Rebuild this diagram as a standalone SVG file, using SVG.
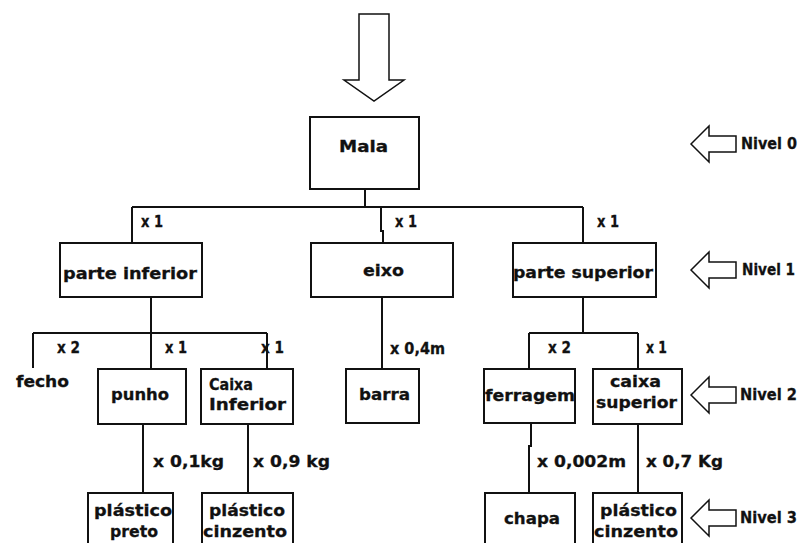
<svg xmlns="http://www.w3.org/2000/svg" xmlns:xlink="http://www.w3.org/1999/xlink" width="802" height="543" viewBox="0 0 802 543">
  <style>
    .box { fill: #fff; stroke: #111; stroke-width: 2; }
    .ln { fill: none; stroke: #111; stroke-width: 2; }
    .arw { fill: #fff; stroke: #111; stroke-width: 1.5; stroke-linejoin: miter; }
    text { font-family: "DejaVu Sans", "Liberation Sans", sans-serif; font-weight: bold; font-size: 16px; fill: #111; stroke: #111; stroke-width: 0.3; }
    .q { font-size: 15px; }
    .lv { font-size: 15px; }
  </style>
  <defs>
    <!-- left-pointing level marker, tip at origin -->
    <polygon id="lvArrow" class="arw" points="0,0 18,-18 18,-8 45,-8 45,8 18,8 18,18"/>
  </defs>

  <rect width="802" height="543" fill="#fff"/>

  <!-- input arrow -->
  <polygon class="arw" points="359,14 389,14 389,80 404,80 374,101 344,80 359,80"/>

  <!-- connectors -->
  <g id="connectors">
    <path class="ln" d="M365 189 V207 M132 207 H583 M132 207 V243 M381 207 V231 H383 V243 M583 207 V243"/>
    <path class="ln" d="M151 297 V333 M33 333 H267 M33 333 V368 M151 333 V369 M267 333 V369"/>
    <path class="ln" d="M143 424 V493 M248 424 V493"/>
    <path class="ln" d="M382 297 V369"/>
    <path class="ln" d="M583 297 V333 M529 333 H638 M529 333 V369 M638 333 V369"/>
    <path class="ln" d="M531 423 V446 H529 V493 M638 424 V493"/>
  </g>

  <!-- quantity labels -->
  <g id="labels">
    <text class="q" x="141" y="227" textLength="22" lengthAdjust="spacingAndGlyphs">x 1</text>
    <text class="q" x="395" y="227" textLength="22" lengthAdjust="spacingAndGlyphs">x 1</text>
    <text class="q" x="597" y="227" textLength="22" lengthAdjust="spacingAndGlyphs">x 1</text>
    <text class="q" x="57" y="353" textLength="23" lengthAdjust="spacingAndGlyphs">x 2</text>
    <text class="q" x="165" y="353" textLength="22" lengthAdjust="spacingAndGlyphs">x 1</text>
    <text class="q" x="261" y="353" textLength="23" lengthAdjust="spacingAndGlyphs">x 1</text>
    <text class="q" x="390" y="354" textLength="55" lengthAdjust="spacingAndGlyphs">x 0,4m</text>
    <text class="q" x="548" y="353" textLength="23" lengthAdjust="spacingAndGlyphs">x 2</text>
    <text class="q" x="646" y="353" textLength="21" lengthAdjust="spacingAndGlyphs">x 1</text>
    <text class="q" x="153" y="467" textLength="71" lengthAdjust="spacingAndGlyphs">x 0,1kg</text>
    <text class="q" x="253" y="467" textLength="77" lengthAdjust="spacingAndGlyphs">x 0,9 kg</text>
    <text class="q" x="537" y="467" textLength="89" lengthAdjust="spacingAndGlyphs">x 0,002m</text>
    <text class="q" x="646" y="467" textLength="77" lengthAdjust="spacingAndGlyphs">x 0,7 Kg</text>
  </g>

  <!-- nodes -->
  <g id="mala">
    <rect class="box" x="310" y="117" width="109" height="72"/>
    <text x="339" y="152" textLength="49" lengthAdjust="spacingAndGlyphs">Mala</text>
  </g>
  <g id="parte-inferior">
    <rect class="box" x="60" y="243" width="142" height="54"/>
    <text x="63" y="279" textLength="134" lengthAdjust="spacingAndGlyphs">parte inferior</text>
  </g>
  <g id="eixo">
    <rect class="box" x="311" y="243" width="142" height="54"/>
    <text x="363" y="276" textLength="41" lengthAdjust="spacingAndGlyphs">eixo</text>
  </g>
  <g id="parte-superior">
    <rect class="box" x="513" y="243" width="143" height="54"/>
    <text x="513" y="278" textLength="140" lengthAdjust="spacingAndGlyphs">parte superior</text>
  </g>
  <g id="fecho">
    <text x="16" y="387" textLength="53" lengthAdjust="spacingAndGlyphs">fecho</text>
  </g>
  <g id="punho">
    <rect class="box" x="98" y="369" width="88" height="55"/>
    <text x="111" y="400" textLength="58" lengthAdjust="spacingAndGlyphs">punho</text>
  </g>
  <g id="caixa-inferior">
    <rect class="box" x="201" y="369" width="92" height="55"/>
    <text x="209" y="390" textLength="44" lengthAdjust="spacingAndGlyphs">Caixa</text>
    <text x="209" y="410" textLength="77" lengthAdjust="spacingAndGlyphs">Inferior</text>
  </g>
  <g id="barra">
    <rect class="box" x="346" y="369" width="73" height="54"/>
    <text x="359" y="400" textLength="51" lengthAdjust="spacingAndGlyphs">barra</text>
  </g>
  <g id="ferragem">
    <rect class="box" x="484" y="369" width="91" height="54"/>
    <text x="485" y="401" textLength="90" lengthAdjust="spacingAndGlyphs">ferragem</text>
  </g>
  <g id="caixa-superior">
    <rect class="box" x="593" y="369" width="89" height="55"/>
    <text x="610" y="387" textLength="51" lengthAdjust="spacingAndGlyphs">caixa</text>
    <text x="596" y="408" textLength="81" lengthAdjust="spacingAndGlyphs">superior</text>
  </g>
  <g id="plastico-preto">
    <rect class="box" x="88" y="493" width="85" height="60"/>
    <text x="94" y="516" textLength="78" lengthAdjust="spacingAndGlyphs">plástico</text>
    <text x="110" y="537" textLength="48" lengthAdjust="spacingAndGlyphs">preto</text>
  </g>
  <g id="plastico-cinzento-1">
    <rect class="box" x="202" y="493" width="91" height="60"/>
    <text x="209" y="516" textLength="76" lengthAdjust="spacingAndGlyphs">plástico</text>
    <text x="203" y="537" textLength="84" lengthAdjust="spacingAndGlyphs">cinzento</text>
  </g>
  <g id="chapa">
    <rect class="box" x="485" y="493" width="90" height="60"/>
    <text x="504" y="524" textLength="56" lengthAdjust="spacingAndGlyphs">chapa</text>
  </g>
  <g id="plastico-cinzento-2">
    <rect class="box" x="593" y="493" width="89" height="60"/>
    <text x="600" y="516" textLength="77" lengthAdjust="spacingAndGlyphs">plástico</text>
    <text x="594" y="537" textLength="84" lengthAdjust="spacingAndGlyphs">cinzento</text>
  </g>

  <!-- level markers -->
  <g id="nivel-0">
    <use xlink:href="#lvArrow" href="#lvArrow" x="691" y="144"/>
    <text class="lv" x="741" y="149" textLength="56" lengthAdjust="spacingAndGlyphs">Nivel 0</text>
  </g>
  <g id="nivel-1">
    <use xlink:href="#lvArrow" href="#lvArrow" x="691" y="270"/>
    <text class="lv" x="742" y="275" textLength="53" lengthAdjust="spacingAndGlyphs">Nivel 1</text>
  </g>
  <g id="nivel-2">
    <use xlink:href="#lvArrow" href="#lvArrow" x="691" y="395"/>
    <text class="lv" x="740" y="400" textLength="57" lengthAdjust="spacingAndGlyphs">Nivel 2</text>
  </g>
  <g id="nivel-3">
    <use xlink:href="#lvArrow" href="#lvArrow" x="691" y="518"/>
    <text class="lv" x="740" y="523" textLength="57" lengthAdjust="spacingAndGlyphs">Nivel 3</text>
  </g>
</svg>
